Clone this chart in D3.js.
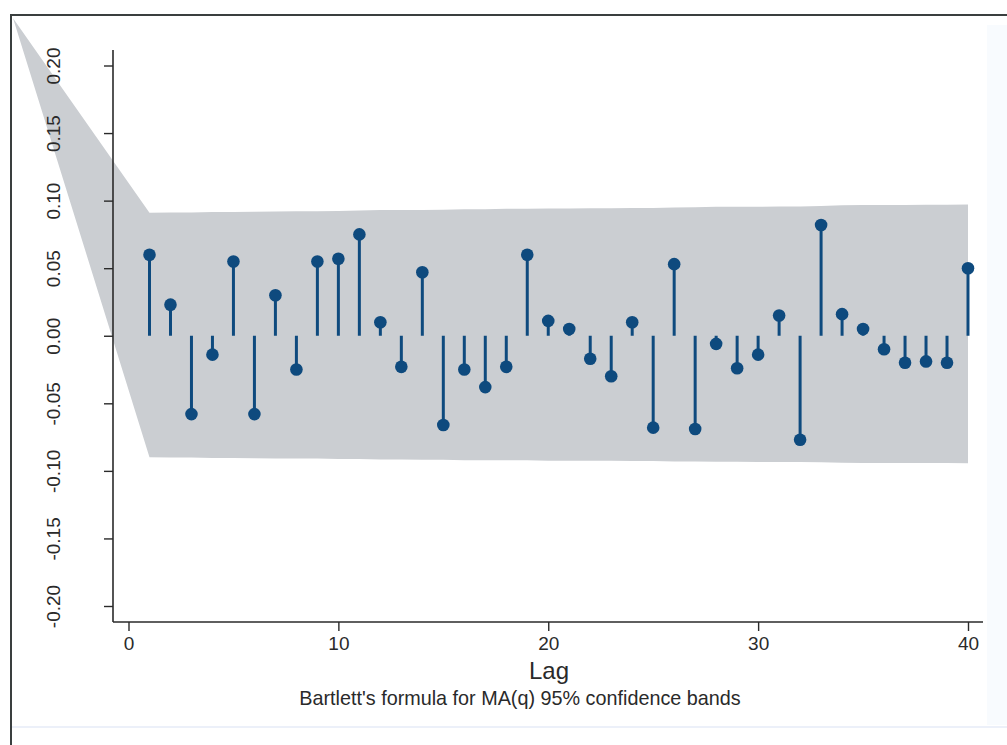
<!DOCTYPE html>
<html>
<head>
<meta charset="utf-8">
<script src="https://cdn.jsdelivr.net/npm/d3@7"></script>
<style>
  body { margin: 0; background: #fff; }
  text { font-family: "Liberation Sans", Arial, sans-serif; fill: #2a2a2a; }
</style>
</head>
<body>
<div id="chart"></div>
<script>
// autocorrelations, lag 1..40
const lags = d3.range(1, 41);
const acValues = [
  0.060, 0.023, -0.058, -0.014, 0.055, -0.058, 0.030, -0.025, 0.055, 0.057,
  0.075, 0.010, -0.023, 0.047, -0.066, -0.025, -0.038, -0.023, 0.060, 0.011,
  0.005, -0.017, -0.030, 0.010, -0.068, 0.053, -0.069, -0.006, -0.024, -0.014,
  0.015, -0.077, 0.082, 0.016, 0.005, -0.010, -0.020, -0.019, -0.020, 0.050
];
// 95% band (Bartlett)
const bandUpper = [
  0.0910, 0.0912, 0.0912, 0.0915, 0.0915, 0.0918, 0.0920, 0.0921, 0.0921, 0.0924,
  0.0926, 0.0930, 0.0930, 0.0931, 0.0933, 0.0936, 0.0937, 0.0939, 0.0939, 0.0942,
  0.0942, 0.0943, 0.0943, 0.0945, 0.0945, 0.0949, 0.0951, 0.0954, 0.0954, 0.0955,
  0.0956, 0.0956, 0.0961, 0.0966, 0.0967, 0.0967, 0.0968, 0.0969, 0.0970, 0.0972
];
const bandLower = [
  -0.0899, -0.0901, -0.0901, -0.0904, -0.0904, -0.0907, -0.0908, -0.0909, -0.0909, -0.0912,
  -0.0913, -0.0916, -0.0916, -0.0917, -0.0918, -0.0921, -0.0921, -0.0922, -0.0922, -0.0925,
  -0.0925, -0.0925, -0.0925, -0.0927, -0.0927, -0.0930, -0.0931, -0.0933, -0.0933, -0.0934,
  -0.0934, -0.0934, -0.0937, -0.0940, -0.0941, -0.0941, -0.0941, -0.0942, -0.0942, -0.0943
];
// the band closes in a point up to the left of the axis
const bandApex = { lag: -5.5, value: 0.235 };

const xTicks = [0, 10, 20, 30, 40];
const yTicks = [-0.20, -0.15, -0.10, -0.05, 0.00, 0.05, 0.10, 0.15, 0.20];

const width = 1007, height = 745;

const svg = d3.select("#chart").append("svg")
  .attr("width", width)
  .attr("height", height);

// scan background: faint bluish strip on the right
svg.append("rect")
  .attr("x", 0).attr("y", 0).attr("width", width).attr("height", height)
  .attr("fill", "#ffffff");
svg.append("rect")
  .attr("x", 987).attr("y", 25).attr("width", 20).attr("height", 700)
  .attr("fill", "#f8fbfe");
svg.append("line")
  .attr("x1", 12).attr("x2", width).attr("y1", 727).attr("y2", 727)
  .attr("stroke", "#e6ebf7").attr("stroke-width", 1.5);

// frame
svg.append("path")
  .attr("d", `M11,${height}V15H${width}`)
  .attr("fill", "none")
  .attr("stroke", "#3a3f3f")
  .attr("stroke-width", 2);

const x = d3.scaleLinear().domain([0, 40]).range([128.5, 968]);
const y = d3.scaleLinear().domain([-0.2, 0.2]).range([606, 65.5]);

// confidence band
const bandPts = [[x(bandApex.lag), y(bandApex.value)]]
  .concat(lags.map((l, i) => [x(l), y(bandUpper[i])]))
  .concat(lags.map((l, i) => [x(l), y(bandLower[i])]).reverse());

svg.append("path")
  .attr("d", d3.line()(bandPts) + "Z")
  .attr("fill", "#cbced2");

// axes (hyphen minus like the original)
const fmt = d => d3.format(".2f")(d).replace("−", "-");

const yAxis = svg.append("g")
  .attr("transform", "translate(113,0)")
  .call(d3.axisLeft(y).tickValues(yTicks).tickSize(9).tickPadding(0).tickFormat(fmt));
yAxis.select(".domain").attr("d", "M0,50V622").attr("stroke", "#2a2a2a").attr("stroke-width", 1.6);
yAxis.selectAll(".tick line").attr("stroke", "#2a2a2a").attr("stroke-width", 1.4);
yAxis.selectAll(".tick text")
  .attr("font-size", 19)
  .attr("text-anchor", "middle")
  .attr("x", 0).attr("dy", 0)
  .attr("transform", "translate(-60,0) rotate(-90)")
  .attr("dominant-baseline", "central")
  .attr("fill", "#2a2a2a");

const xAxis = svg.append("g")
  .attr("transform", "translate(0,622)")
  .call(d3.axisBottom(x).tickValues(xTicks).tickSize(9).tickPadding(6));
xAxis.select(".domain").attr("d", "M113,0H983").attr("stroke", "#2a2a2a").attr("stroke-width", 1.6);
xAxis.selectAll(".tick line").attr("stroke", "#2a2a2a").attr("stroke-width", 1.4);
xAxis.selectAll(".tick text").attr("font-size", 19).attr("fill", "#2a2a2a");

// stems + dots
const stemColor = "#0e4a7e";
svg.append("g").selectAll("line")
  .data(lags)
  .join("line")
  .attr("x1", d => x(d)).attr("x2", d => x(d))
  .attr("y1", y(0))
  .attr("y2", (d, i) => y(acValues[i]))
  .attr("stroke", stemColor)
  .attr("stroke-width", 3);

svg.append("g").selectAll("circle")
  .data(lags)
  .join("circle")
  .attr("cx", d => x(d))
  .attr("cy", (d, i) => y(acValues[i]))
  .attr("r", 6.3)
  .attr("fill", stemColor);

// titles
svg.append("text")
  .attr("x", 549).attr("y", 679)
  .attr("text-anchor", "middle")
  .attr("font-size", 24)
  .text("Lag");

svg.append("text")
  .attr("x", 520).attr("y", 705)
  .attr("text-anchor", "middle")
  .attr("font-size", 19.8)
  .text("Bartlett's formula for MA(q) 95% confidence bands");
</script>
</body>
</html>
